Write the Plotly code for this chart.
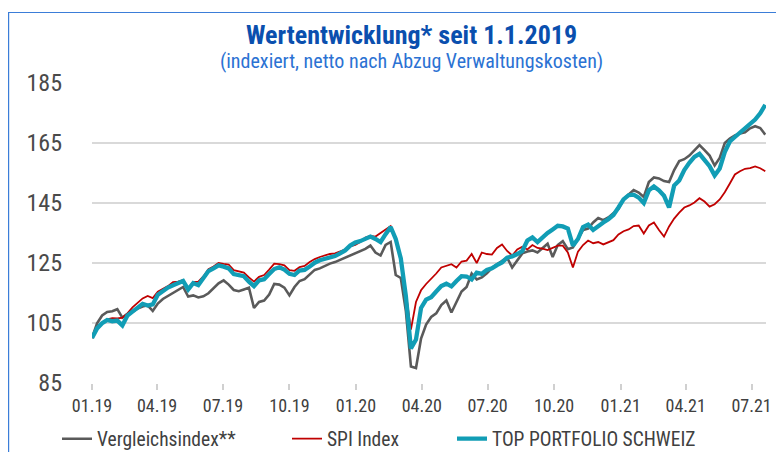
import pandas as pd
import plotly.graph_objects as go

# Weekly observation dates (every 7 days from 1.1.2019)
dates = pd.date_range("2019-01-01", periods=134, freq="7D")

top_portfolio = [
    100.0, 103.2, 104.9, 106.0, 105.6, 105.8, 104.2, 107.5, 108.8, 110.3,
    111.4, 110.8, 111.2, 114.4, 115.8, 116.8, 117.6, 118.4, 119.0, 116.2,
    118.3, 117.6, 119.8, 122.3, 123.2, 124.2, 123.8, 123.2, 121.3, 121.0,
    120.6, 118.8, 117.3, 119.2, 119.6, 121.3, 123.0, 123.6, 122.8, 121.4,
    121.0, 122.5, 122.7, 123.8, 125.1, 125.9, 126.3, 126.8, 127.3, 128.2,
    129.2, 130.8, 131.8, 132.3, 133.0, 133.8, 133.0, 132.0, 134.6, 137.0,
    133.0, 126.5, 114.0, 96.5, 99.5, 110.0, 112.8, 113.6, 115.5, 117.3,
    118.1, 117.2, 119.0, 120.6, 120.5, 119.5, 121.8, 121.4, 122.7, 123.2,
    124.3, 125.2, 126.8, 127.2, 128.0, 129.0, 132.5, 133.5, 132.0, 133.6,
    135.0, 136.2, 137.4, 137.2, 136.5, 130.8, 133.0, 137.0, 137.8, 136.0,
    137.4, 138.5, 139.6, 141.0, 143.5, 146.2, 147.6, 147.8, 146.8, 145.0,
    149.2, 150.5, 149.2, 147.4, 143.5, 150.8, 152.5, 156.0, 158.4, 160.4,
    161.4, 159.5, 157.3, 154.2, 156.5, 162.0, 165.5, 167.0, 168.5, 170.2,
    171.6, 172.8, 174.9, 177.7,
]

vergleichsindex = [
    100.0, 104.9, 107.5, 108.7, 108.9, 109.6, 106.8, 108.0, 108.8, 109.8,
    110.5, 110.9, 109.0, 111.5, 113.0, 114.0, 115.0, 116.0, 117.0, 113.8,
    114.2, 113.5, 113.9, 114.9, 116.5, 118.2, 119.2, 117.8, 116.0, 115.6,
    116.2, 116.8, 110.0, 112.0, 112.5, 114.5, 118.0, 117.8, 116.8, 114.2,
    117.0, 119.0, 119.6, 121.0, 122.7, 123.2, 124.0, 124.8, 125.3, 126.0,
    126.8, 127.6, 128.3, 128.8, 129.7, 130.8, 128.5, 127.5, 131.0, 132.0,
    121.0, 120.0, 109.0, 90.5, 90.0, 99.8, 104.5, 107.0, 108.2, 111.0,
    112.5, 108.5, 111.8, 115.5, 117.0, 121.5, 119.5, 120.2, 121.6, 123.3,
    124.6, 125.8, 126.8, 123.5, 126.0, 128.2, 128.8, 129.2, 128.5, 130.0,
    131.4, 127.0, 131.0, 132.3, 129.6, 130.2, 133.0, 136.0, 136.5, 138.5,
    140.0, 139.3, 140.2, 141.5, 143.0, 146.3, 147.8, 149.3, 148.5, 147.0,
    152.0, 153.5, 153.2, 152.3, 152.0, 156.0, 159.0, 159.6, 160.8, 162.6,
    164.3, 162.6, 160.8, 157.5, 160.0, 165.0, 166.5, 167.5, 168.2, 168.6,
    169.9, 170.6, 170.0, 167.8,
]

spi_index = [
    100.0, 103.0, 104.8, 106.2, 106.6, 106.5, 106.8, 108.2, 110.2, 111.8,
    113.2, 114.0, 113.3, 115.4, 116.3, 117.3, 118.6, 118.8, 119.3, 116.6,
    118.6, 118.8, 120.5, 122.9, 123.8, 125.0, 124.7, 124.5, 122.6, 122.3,
    121.8, 120.2, 118.8, 120.4, 121.0, 122.8, 124.8, 124.6, 124.2, 122.6,
    122.4, 123.6, 124.0, 125.3, 126.3, 127.0, 127.6, 128.0, 128.2, 128.8,
    129.5, 130.5, 131.0, 132.0, 133.5, 134.0, 133.8, 135.0, 136.2, 137.3,
    133.5, 127.0, 115.0, 102.8, 112.0, 115.9, 118.0, 119.6, 121.5, 123.5,
    124.0, 124.6, 123.5, 125.5, 125.8, 128.0, 125.0, 128.5, 128.0, 127.8,
    130.0, 131.2, 129.0, 127.5, 129.5, 130.4, 129.5, 131.0, 130.0, 129.8,
    129.3, 130.0, 130.8, 130.8, 128.5, 123.5, 128.8, 131.0, 132.5, 131.6,
    132.0, 131.2, 131.8, 132.6, 134.5, 135.6, 136.2, 137.3, 137.5, 134.8,
    137.5, 138.5, 136.0, 133.8, 137.2, 139.8, 141.8, 143.5, 144.2, 145.2,
    146.6, 145.5, 143.8, 144.6, 146.2, 148.6, 151.5, 154.5, 155.6, 156.4,
    156.6, 157.2, 156.6, 155.6,
]

tick_dates = pd.date_range("2019-01-01", "2021-07-01", freq="QS")
y_ticks = [85, 105, 125, 145, 165, 185]

FONT = "Liberation Sans Narrow, Roboto Condensed, Arial Narrow, Liberation Sans, sans-serif"

# the page body adds an 8px offset; the figure is sized so the page is 784x452
OFF = 8
W, H = 784 - OFF, 452 - OFF
PL, PR, PT, PB = 92, 766, 83, 383          # plot box in page pixels
L, R, T, B = PL - OFF, W - (PR - OFF), PT - OFF, H - (PB - OFF)
pw, ph = W - L - R, H - T - B


def px(xp):
    return (xp - OFF - L) / pw


def py(yp):
    return (H - B - (yp - OFF)) / ph


fig = go.Figure()
fig.add_trace(go.Scatter(x=dates, y=vergleichsindex, mode="lines", name="Vergleichsindex**",
                         line=dict(color="#5a5a5a", width=2.6), legend="legend"))
fig.add_trace(go.Scatter(x=dates, y=spi_index, mode="lines", name="SPI Index",
                         line=dict(color="#c00000", width=1.8), legend="legend2"))
fig.add_trace(go.Scatter(x=dates, y=top_portfolio, mode="lines", name="TOP PORTFOLIO SCHWEIZ",
                         line=dict(color="#119db5", width=4.3), legend="legend3"))

leg_common = dict(orientation="h", yanchor="middle", xanchor="left",
                  font=dict(size=19.5, color="#404040", family=FONT),
                  bgcolor="rgba(0,0,0,0)", borderwidth=0, itemwidth=30)

fig.update_layout(
    width=W, height=H,
    margin=dict(l=L, r=R, t=T, b=B, autoexpand=False),
    plot_bgcolor="white", paper_bgcolor="white",
    font=dict(family=FONT, color="#404040"),
    xaxis=dict(
        type="date",
        range=["2019-01-01", "2021-07-21"],
        tickvals=tick_dates, tickformat="%m.%y",
        ticks="outside", ticklen=6, tickwidth=1.5, tickcolor="#d0d0d0",
        showgrid=False, showline=False, zeroline=False, automargin=False,
        tickfont=dict(size=18, color="#404040", family=FONT),
    ),
    yaxis=dict(
        range=[85, 185], tickvals=y_ticks,
        showgrid=True, gridcolor="#d9d9d9", gridwidth=2,
        zeroline=False, showline=False, automargin=False,
        ticklabelstandoff=29,
        tickfont=dict(size=24, color="#4a4a4a", family=FONT),
    ),
    showlegend=True,
    legend=dict(x=px(57), y=py(439), **leg_common),
    legend2=dict(x=px(287), y=py(439), **leg_common),
    legend3=dict(x=px(452), y=py(439), **leg_common),
    annotations=[
        dict(text="<b>Wertentwicklung* seit 1.1.2019</b>", xref="paper", yref="paper",
             x=px(411), y=py(35), xanchor="center", yanchor="middle", showarrow=False,
             font=dict(size=26, color="#0a4fae", family=FONT)),
        dict(text="(indexiert, netto nach Abzug Verwaltungskosten)", xref="paper", yref="paper",
             x=px(411), y=py(61), xanchor="center", yanchor="middle", showarrow=False,
             font=dict(size=20, color="#2b72d3", family=FONT)),
    ],
    shapes=[
        dict(type="rect", xref="paper", yref="paper", x0=px(8.6), y0=py(480), x1=px(820),
             y1=py(12.5), line=dict(color="#3b7dd8", width=1.2),
             fillcolor="rgba(0,0,0,0)", layer="below"),
    ],
)

fig.write_html("out.html")
